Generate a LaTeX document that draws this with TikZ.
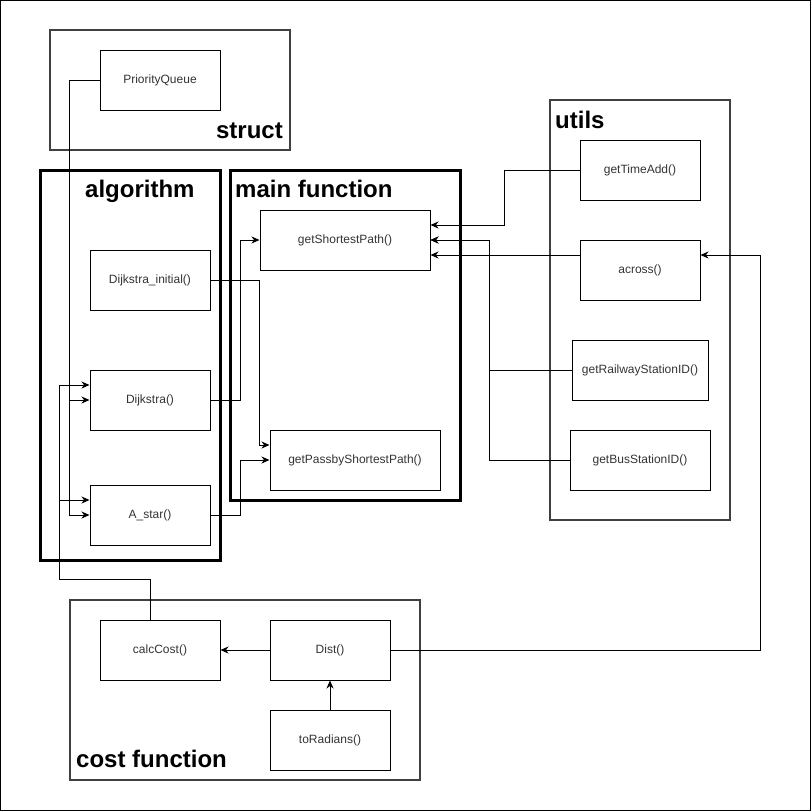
\documentclass[tikz,border=0pt]{standalone}
\usepackage{fontspec}
\setmainfont{Liberation Sans}
\usepackage{tikz}
\usetikzlibrary{arrows.meta,calc}
\definecolor{ink}{HTML}{333333}
\definecolor{frame}{HTML}{404040}
\tikzset{
  fn/.style={draw,line width=1pt,minimum width=120pt,minimum height=60pt,inner sep=0pt,text=ink,font=\fontsize{12}{14}\selectfont},
  grp/.style={draw=frame,line width=2pt,inner sep=0pt},
  bold grp/.style={draw,line width=3pt,inner sep=0pt},
  ttl/.style={inner sep=0pt,font=\fontsize{24}{28}\selectfont\bfseries},
  arr/.style={-{Stealth[length=8pt,width=7pt,inset=2.5pt]},line width=1pt}
}
\begin{document}
\begin{tikzpicture}[x=1pt,y=-1pt]
  \useasboundingbox (0,0) rectangle (811,811);
  \node[draw,line width=1pt,minimum size=810pt,inner sep=0pt] (page) at (405.5,405.5) {};
  \node[grp,minimum width=240pt,minimum height=120pt] (structbox) at (170,90) {};
  \node[bold grp,minimum width=180pt,minimum height=390pt] (algobox) at (130,365) {};
  \node[bold grp,minimum width=230pt,minimum height=330pt] (mainbox) at (345,335) {};
  \node[grp,minimum width=180pt,minimum height=420pt] (utilsbox) at (640,310) {};
  \node[grp,minimum width=350pt,minimum height=180pt] (costbox) at (245,690) {};
  \node[ttl,anchor=base east] (structlbl) at (283,138) {struct};
  \node[ttl,anchor=base west] (algolbl) at (85,197) {algorithm};
  \node[ttl,anchor=base west] (mainlbl) at (235,197) {main function};
  \node[ttl,anchor=base west] (utilslbl) at (555,128) {utils};
  \node[ttl,anchor=base west] (costlbl) at (76,767) {cost function};

  \node[fn] (pq) at (160,80) {PriorityQueue};
  \node[fn] (dinit) at (150,280) {Dijkstra\_initial()};
  \node[fn] (dij) at (150,400) {Dijkstra()};
  \node[fn] (astar) at (150,515) {A\_star()};
  \node[fn,minimum width=170pt] (gsp) at (345,240) {getShortestPath()};
  \node[fn,minimum width=170pt] (gpsp) at (355,460) {getPassbyShortestPath()};
  \node[fn] (time) at (640,170) {getTimeAdd()};
  \node[fn] (across) at (640,270) {across()};
  \node[fn,minimum width=136pt] (rail) at (640,370) {getRailwayStationID()};
  \node[fn,minimum width=140pt] (bus) at (640,460) {getBusStationID()};
  \node[fn] (cost) at (160,650) {calcCost()};
  \node[fn] (dist) at (330,650) {Dist()};
  \node[fn] (rad) at (330,740) {toRadians()};

  \draw[arr] (pq.west) -- ++(-30,0) |- (dij.west);
  \draw[arr] (pq.west) -- ++(-30,0) |- (astar.west);
  \draw[arr] ([xshift=-10pt]cost.north) -- ++(0,-40) -| ($(dij.west)+(-30,-15)$) -- ($(dij.west)+(0,-15)$);
  \draw[arr] ([xshift=-10pt]cost.north) -- ++(0,-40) -| ($(astar.west)+(-30,-15)$) -- ($(astar.west)+(0,-15)$);
  \draw[arr] (dinit.east) -| ($(gpsp.west)+(-10,-15)$) -- ($(gpsp.west)+(0,-15)$);
  \draw[arr] (dij.east) -- ++(30,0) |- (gsp.west);
  \draw[arr] (astar.east) -- ++(30,0) |- (gpsp.west);
  \draw[arr] (time.west) -- ++(-75,0) |- ($(gsp.east)+(0,-15)$);
  \draw[arr] (rail.west) -- ++(-82,0) |- (gsp.east);
  \draw[arr] (bus.west) -- ++(-80,0) |- (gsp.east);
  \draw[arr] ($(across.west)+(0,-15)$) -- ($(gsp.east)+(0,15)$);
  \draw[arr] (dist.east) -- ++(370,0) |- ($(across.east)+(0,-15)$);
  \draw[arr] (dist) -- (cost);
  \draw[arr] (rad) -- (dist);
\end{tikzpicture}
\end{document}
